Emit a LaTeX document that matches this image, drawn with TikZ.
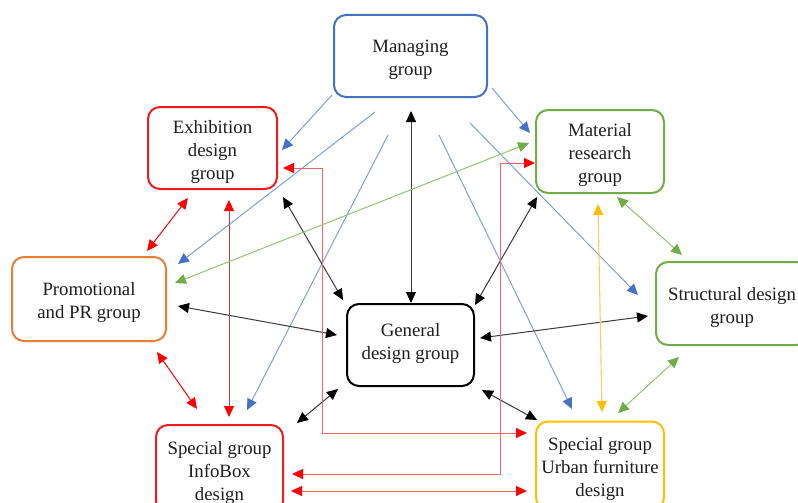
\documentclass[tikz,border=0pt]{standalone}
\usepackage{fontspec}
\setmainfont{Liberation Serif}
\usetikzlibrary{arrows.meta}
\definecolor{cBlue}{HTML}{4472C4}
\definecolor{cBlueL}{HTML}{7F9FD5}
\definecolor{cRed}{HTML}{FF0000}
\definecolor{cRedBox}{HTML}{EE1C1C}
\definecolor{cRedL}{HTML}{FF6464}
\definecolor{cRedD}{HTML}{B84040}
\definecolor{cOrange}{HTML}{ED7D31}
\definecolor{cGreen}{HTML}{70AD47}
\definecolor{cGreenL}{HTML}{92C46F}
\definecolor{cGold}{HTML}{FFC000}
\definecolor{cGoldL}{HTML}{F2CF6A}
\definecolor{cBlackL}{HTML}{3A3A3A}
\definecolor{txt}{HTML}{1E1E1E}
\newcommand{\topstrut}{\rule{0pt}{20.5pt}}
\newcommand{\botstrut}{\rule[-8pt]{0pt}{8pt}}
\tikzset{
  Tb/.tip={Triangle[length=11pt,width=10pt,color=cBlue]},
  Tk/.tip={Triangle[length=11pt,width=10pt,color=black]},
  Tr/.tip={Triangle[length=11pt,width=10pt,color=cRed]},
  Tg/.tip={Triangle[length=11pt,width=10pt,color=cGreen]},
  Ty/.tip={Triangle[length=11pt,width=10pt,color=cGold]},
}
\begin{document}
\begin{tikzpicture}[x=1pt,y=-1pt,
  box/.style={rectangle, rounded corners=12pt, line width=2pt, align=center,
    inner sep=0pt, text=txt, font=\fontsize{18.8}{23}\selectfont},
  blueArr/.style={draw=cBlueL, line width=1pt, -Tb},
  blackArr/.style={draw=cBlackL, line width=1pt, Tk-Tk},
  redArr/.style={draw=cRed, line width=1pt, Tr-Tr},
  redElbow/.style={draw=cRedL, line width=1pt, Tr-Tr},
  redDark/.style={draw=cRedD, line width=1pt, Tr-Tr},
  greenArr/.style={draw=cGreenL, line width=1pt, Tg-Tg},
  goldArr/.style={draw=cGoldL, line width=1.1pt, Ty-Ty}]
\useasboundingbox (0,0) rectangle (798,503);
\clip (0,0) rectangle (798,503);
\fill[white] (0,0) rectangle (798,503);

% boxes
\node[box, draw=cBlue, minimum width=153pt, minimum height=82pt] (mg) at (410.5,56) {\topstrut Managing\\group};
\node[box, draw=cRedBox, minimum width=129pt, minimum height=82pt] (ex) at (212.5,148) {\topstrut Exhibition\\design\\group};
\node[box, draw=cGreen, minimum width=128pt, minimum height=83pt] (mr) at (600,151.5) {\topstrut Material\\research\\group};
\node[box, draw=cOrange, minimum width=154pt, minimum height=84pt] (pr) at (89,299) {\topstrut Promotional\\and PR group};
\node[box, draw=black, minimum width=127pt, minimum height=82pt] (gd) at (410.5,345) {General\\design group\botstrut};
\node[box, draw=cGreen, minimum width=152pt, minimum height=83pt] (sd) at (732,303.5) {\topstrut Structural design\\group};
\node[box, draw=cRedBox, minimum width=127pt, minimum height=88pt] (ib) at (219.5,469) {\topstrut Special group\\InfoBox\\design};
\node[box, draw=cGold, minimum width=128pt, minimum height=88pt] (ub) at (600,465.5) {\topstrut Special group\\Urban furniture\\design};

% blue arrows from managing group
\draw[blueArr] ([shift={(-78.5,39)}]mg.center) -- ([shift={(69.5,2)}]ex.center);
\draw[blueArr] ([shift={(-35.5,56)}]mg.center) -- ([shift={(89,-35)}]pr.center);
\draw[blueArr] ([shift={(-22.5,79)}]mg.center) -- ([shift={(27.5,-59)}]ib.center);
\draw[blueArr] ([shift={(81.5,32)}]mg.center) -- ([shift={(-70,-18.5)}]mr.center);
\draw[blueArr] ([shift={(59.5,67)}]mg.center) -- ([shift={(-94,-8.5)}]sd.center);
\draw[blueArr] ([shift={(28.5,79)}]mg.center) -- ([shift={(-28,-56.5)}]ub.center);

% black arrows to general design group
\draw[blackArr] ([shift={(0.5,55)}]mg.center) -- ([shift={(0.5,-42)}]gd.center);
\draw[blackArr] ([shift={(70.5,49)}]ex.center) -- ([shift={(-67.5,-45)}]gd.center);
\draw[blackArr] ([shift={(-63,45.5)}]mr.center) -- ([shift={(64.5,-40)}]gd.center);
\draw[blackArr] ([shift={(89,7)}]pr.center) -- ([shift={(-73.5,-10)}]gd.center);
\draw[blackArr] ([shift={(69.5,-7)}]gd.center) -- ([shift={(-84,12.5)}]sd.center);
\draw[blackArr] ([shift={(-72.5,44)}]gd.center) -- ([shift={(77.5,-46)}]ib.center);
\draw[blackArr] ([shift={(71.5,45)}]gd.center) -- ([shift={(-63,-45.5)}]ub.center);

% red arrows
\draw[redArr] ([shift={(-24.5,50)}]ex.center) -- ([shift={(58,-48)}]pr.center);
\draw[redArr] ([shift={(68,53)}]pr.center) -- ([shift={(-22.5,-60)}]ib.center);
\draw[redDark] ([shift={(16.5,52)}]ex.center) -- ([shift={(9.5,-52)}]ib.center);
\draw[redElbow] ([shift={(70.5,20)}]ex.center) -- ++(39,0) |- ([shift={(-73,-32.5)}]ub.center);
\draw[redElbow] ([shift={(-65,11.5)}]mr.center) -- ++(-35,0) |- ([shift={(72.5,5)}]ib.center);
\draw[redElbow] ([shift={(71.5,22)}]ib.center) -- ([shift={(-73,25.5)}]ub.center);

% green arrows
\draw[greenArr] ([shift={(-71,-8.5)}]mr.center) -- ([shift={(86,-16)}]pr.center);
\draw[greenArr] ([shift={(17,45.5)}]mr.center) -- ([shift={(-50,-48.5)}]sd.center);
\draw[greenArr] ([shift={(-53,53.5)}]sd.center) -- ([shift={(18,-52.5)}]ub.center);

% gold arrow
\draw[goldArr] ([shift={(-2,52.5)}]mr.center) -- ([shift={(2,-53.5)}]ub.center);
\end{tikzpicture}
\end{document}
